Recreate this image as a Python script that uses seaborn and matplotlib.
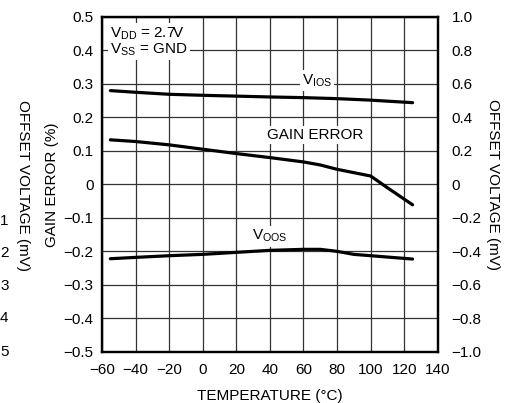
import matplotlib
matplotlib.use("Agg")
import matplotlib.pyplot as plt
import seaborn as sns
import pandas as pd

# data
gain_temp = [-55, -40, -20, 0, 20, 40, 60, 70, 80, 90, 100, 110, 125]
gain_err = [0.133, 0.128, 0.118, 0.105, 0.092, 0.080, 0.067, 0.058, 0.045, 0.035, 0.025, -0.010, -0.061]

vios_temp = [-55, -40, -20, 0, 20, 40, 60, 80, 100, 125]
vios_mv = [0.560, 0.550, 0.538, 0.532, 0.527, 0.522, 0.518, 0.512, 0.503, 0.488]

voos_temp = [-55, -40, -20, 0, 20, 40, 60, 70, 80, 90, 100, 125]
voos_mv = [-0.444, -0.436, -0.426, -0.418, -0.406, -0.394, -0.388, -0.388, -0.400, -0.418, -0.426, -0.446]

x_ticks = [-60, -40, -20, 0, 20, 40, 60, 80, 100, 120, 140]
left_ticks = [-0.5, -0.4, -0.3, -0.2, -0.1, 0, 0.1, 0.2, 0.3, 0.4, 0.5]
right_ticks = [-1.0, -0.8, -0.6, -0.4, -0.2, 0, 0.2, 0.4, 0.6, 0.8, 1.0]

sns.set_style("white")
plt.rcParams["font.family"] = ["Liberation Sans", "DejaVu Sans"]
plt.rcParams["axes.unicode_minus"] = True
plt.rcParams["mathtext.default"] = "regular"
plt.rcParams["text.color"] = "black"
plt.rcParams["axes.labelcolor"] = "black"
plt.rcParams["xtick.color"] = "black"
plt.rcParams["ytick.color"] = "black"

fig = plt.figure(figsize=(5.15, 4.03), dpi=100)
ax = fig.add_axes([0.198, 0.127, 0.652, 0.831])
ax2 = ax.twinx()

fs = 11
df_gain = pd.DataFrame({"T": gain_temp, "v": gain_err})
df_vios = pd.DataFrame({"T": vios_temp, "v": vios_mv})
df_voos = pd.DataFrame({"T": voos_temp, "v": voos_mv})

sns.lineplot(data=df_gain, x="T", y="v", ax=ax, color="black", linewidth=2.3, zorder=3)
sns.lineplot(data=df_vios, x="T", y="v", ax=ax2, color="black", linewidth=2.3, zorder=3)
sns.lineplot(data=df_voos, x="T", y="v", ax=ax2, color="black", linewidth=2.3, zorder=3)

ax.set_xlim(-60, 140)
ax.set_ylim(-0.5, 0.5)
ax2.set_ylim(-1.0, 1.0)
ax.set_xticks(x_ticks)
ax.set_yticks(left_ticks)
ax2.set_yticks(right_ticks)
ax.set_xticklabels([str(t).replace("-", "\u2212") for t in x_ticks], fontsize=fs)
ax.set_yticklabels(["0" if v == 0 else f"{v:.1f}".replace("-", "\u2212") for v in left_ticks], fontsize=fs)
ax2.set_yticklabels(["0" if v == 0 else f"{v:.1f}".replace("-", "\u2212") for v in right_ticks], fontsize=fs)
ax.tick_params(axis="x", length=0, pad=8)
ax.tick_params(axis="y", length=0, pad=6)
ax2.tick_params(length=0, pad=10)

ax.grid(True, color="#333333", linewidth=0.9)
ax.set_axisbelow(True)
for a in (ax, ax2):
    for s in a.spines.values():
        s.set_color("black")
        s.set_linewidth(1.6)

ax.set_xlabel("TEMPERATURE (\u00b0C)", fontsize=fs, labelpad=9)
ax.set_ylabel("GAIN ERROR (%)", fontsize=fs, labelpad=3)
ax2.set_ylabel("OFFSET VOLTAGE (mV)", fontsize=fs, rotation=270, labelpad=13)

box = dict(facecolor="white", edgecolor="none", pad=1.5)
ax.text(-55, 0.475, "V$_{DD}$ = 2.7V\nV$_{SS}$ = GND", fontsize=fs, va="top", ha="left",
        bbox=box, linespacing=1.0, zorder=4)
ax.text(68, 0.31, "V$_{IOS}$", fontsize=fs, ha="center", va="center", bbox=box, zorder=4)
ax.text(67, 0.148, "GAIN ERROR", fontsize=fs, ha="center", va="center", bbox=box, zorder=4)
ax.text(40, -0.155, "V$_{OOS}$", fontsize=fs, ha="center", va="center", bbox=box, zorder=4)

# remnants of the neighbouring chart at the left edge
fig.text(0.045, 0.54, "OFFSET VOLTAGE (mV)", fontsize=fs, rotation=270, ha="center", va="center")
for i, yp in enumerate([221, 253, 286, 318, 352]):
    fig.text(0.0, 1 - yp / 403, str(i + 1), fontsize=fs, ha="left", va="center")

fig.savefig("out.png", dpi=100)
